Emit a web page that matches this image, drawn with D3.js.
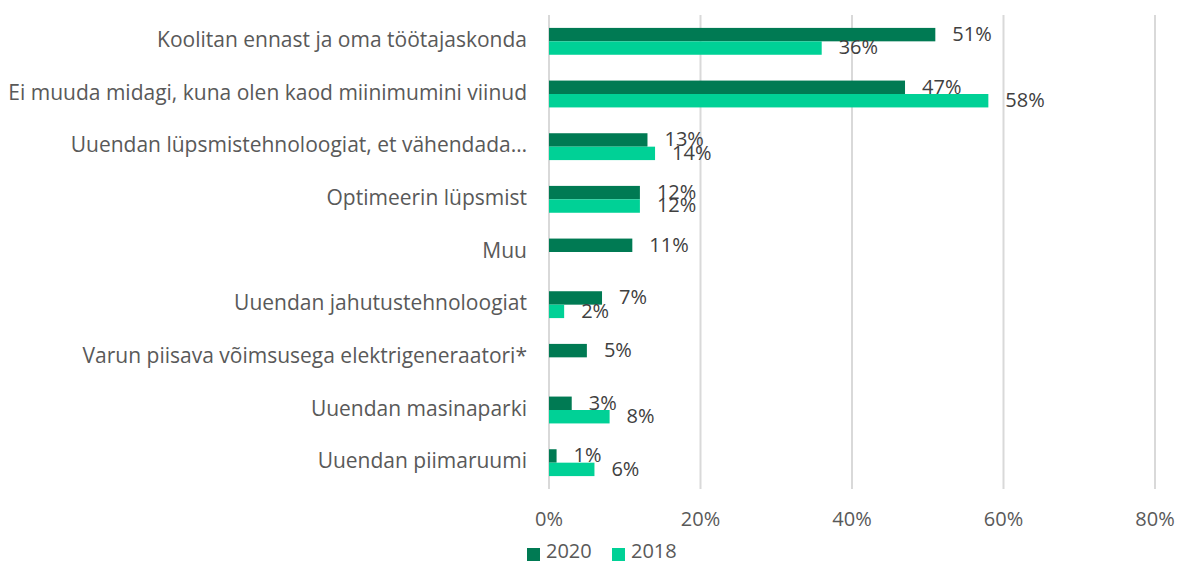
<!DOCTYPE html>
<html>
<head>
<meta charset="UTF-8">
<title>Lüpsikarja tegevused</title>
<style>
  body { margin: 0; background: #fff; }
  svg text { font-family: "Open Sans", sans-serif; }
  .grid line { stroke: #d9d9d9; stroke-width: 2px; }
  .cat { fill: #595959; font-size: 21px; }
  .tick-label { fill: #595959; font-size: 20px; }
  .val { fill: #404040; font-size: 20px; }
  .legend text { fill: #595959; font-size: 20px; }
</style>
</head>
<body>
<svg id="chart"></svg>
<script src="https://cdnjs.cloudflare.com/ajax/libs/d3/7.8.5/d3.min.js"></script>
<script>
// categories, top to bottom
var categories = [
  "Koolitan ennast ja oma töötajaskonda",
  "Ei muuda midagi, kuna olen kaod miinimumini viinud",
  "Uuendan lüpsmistehnoloogiat, et vähendada…",
  "Optimeerin lüpsmist",
  "Muu",
  "Uuendan jahutustehnoloogiat",
  "Varun piisava võimsusega elektrigeneraatori*",
  "Uuendan masinaparki",
  "Uuendan piimaruumi"
];
var seriesNames = ["2020", "2018"];
var values2020 = [51, 47, 13, 12, 11, 7, 5, 3, 1];
var values2018 = [36, 58, 14, 12, null, 2, null, 8, 6];
var xTicks = [0, 20, 40, 60, 80];
var colors = ["#007a53", "#00d196"];

var W = 1179, H = 563;
var svg = d3.select('#chart').attr('width', W).attr('height', H);

var x = d3.scaleLinear().domain([0, 80]).range([549, 1155]);
var y = d3.scaleBand().domain(categories).range([15, 489]).paddingInner(0.49).paddingOuter(0.245);
var ySub = d3.scaleBand().domain(seriesNames).range([0, y.bandwidth()]);

// gridlines
svg.append('g').attr('class', 'grid')
  .selectAll('line').data(xTicks).enter().append('line')
  .attr('x1', function (d) { return x(d); })
  .attr('x2', function (d) { return x(d); })
  .attr('y1', 15).attr('y2', 489);

// tick labels
svg.append('g').selectAll('text').data(xTicks).enter().append('text')
  .attr('class', 'tick-label')
  .attr('x', function (d) { return x(d); })
  .attr('y', 521)
  .attr('text-anchor', 'middle')
  .attr('dominant-baseline', 'middle')
  .text(function (d) { return d + '%'; });

// category labels
svg.append('g').selectAll('text').data(categories).enter().append('text')
  .attr('class', 'cat')
  .attr('x', 527)
  .attr('y', function (d) { return y(d) + y.bandwidth() / 2; })
  .attr('text-anchor', 'end')
  .attr('dominant-baseline', 'middle')
  .text(function (d) { return d; });

// bars
var rows = [];
categories.forEach(function (c, i) {
  rows.push({ cat: c, s: "2020", v: values2020[i], k: 0 });
  rows.push({ cat: c, s: "2018", v: values2018[i], k: 1 });
});
rows = rows.filter(function (d) { return d.v !== null; });

svg.append('g').selectAll('rect').data(rows).enter().append('rect')
  .attr('x', x(0))
  .attr('y', function (d) { return y(d.cat) + ySub(d.s); })
  .attr('width', function (d) { return x(d.v) - x(0); })
  .attr('height', ySub.bandwidth())
  .attr('fill', function (d) { return colors[d.k]; });

svg.append('g').selectAll('text').data(rows).enter().append('text')
  .attr('class', 'val')
  .attr('x', function (d) { return x(d.v) + 17; })
  .attr('y', function (d) { return y(d.cat) + ySub(d.s) + ySub.bandwidth() / 2 + 1; })
  .attr('dominant-baseline', 'middle')
  .text(function (d) { return d.v + '%'; });

// legend
var legend = svg.append('g').attr('class', 'legend');
var lx = [527, 612];
seriesNames.forEach(function (s, i) {
  legend.append('rect').attr('x', lx[i]).attr('y', 548).attr('width', 13).attr('height', 13).attr('fill', colors[i]);
  legend.append('text').attr('x', lx[i] + 19).attr('y', 553).attr('dominant-baseline', 'middle').text(s);
});
</script>
</body>
</html>
